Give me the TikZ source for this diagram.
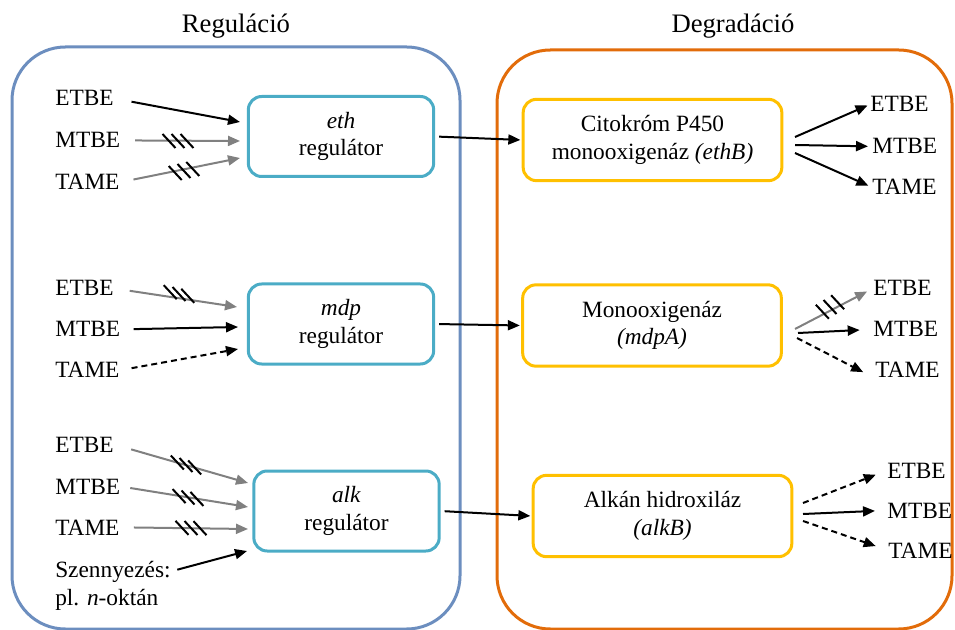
\documentclass[tikz,border=0pt]{standalone}
\usepackage{fontspec}
\setmainfont{Liberation Serif}
\usetikzlibrary{arrows.meta}
\definecolor{regblue}{RGB}{108,142,191}
\definecolor{degorange}{RGB}{226,108,10}
\definecolor{tealbox}{RGB}{75,172,198}
\definecolor{goldbox}{RGB}{255,192,0}
\definecolor{arrgray}{RGB}{128,128,128}
\newcommand\hashmarks[3]{\foreach \hd in {-9,0,9}{\draw[hashline,shift={(#1,#2)}] (#3:\hd) ++(-6.5,-7) -- ++(13,14);}}
\begin{document}
\begin{tikzpicture}[x=0.75pt,y=-0.75pt,
  font=\fontsize{17.5}{20.5}\selectfont,
  container/.style={line width=2.25pt, rounded corners=40pt},
  regbox/.style={draw=tealbox, line width=2.25pt, rounded corners=10pt, minimum width=139pt, minimum height=60pt, align=center, fill=white, inner sep=2pt},
  enzbox/.style={draw=goldbox, line width=2.25pt, rounded corners=10pt, minimum width=194pt, minimum height=61pt, align=center, fill=white, inner sep=2pt},
  title/.style={anchor=base, font=\fontsize{20}{24}\selectfont},
  lbl/.style={anchor=base west, inner sep=0pt},
  blk/.style={line width=1.5pt, -{Triangle[length=9pt,width=7.5pt]}},
  gry/.style={blk, color=arrgray},
  dsh/.style={blk, dash pattern=on 4.5pt off 3pt},
  hashline/.style={line width=1.5pt, black}]
\useasboundingbox (0,0) rectangle (955,630);

% containers
\draw[container, draw=regblue] (12,47) rectangle (460,629);
\draw[container, draw=degorange] (497,50) rectangle (952,629);
\node[title] (t1) at (236,33) {Reguláció};
\node[title] (t2) at (733,33) {Degradáció};

% regulator boxes
\node[regbox] (eth) at (341,136.5) {\textit{eth}\\regulátor};
\node[regbox] (mdp) at (341,324) {\textit{mdp}\\regulátor};
\node[regbox] (alk) at (346.5,511) {\textit{alk}\\regulátor};

% enzyme boxes
\node[enzbox] (cito) at (652.5,140) {Citokróm P450\\monooxigenáz \textit{(ethB)}};
\node[enzbox] (mono) at (652,325.5) {Monooxigenáz\\\textit{(mdpA)}};
\node[enzbox] (alkan) at (662.5,516) {Alkán hidroxiláz\\\textit{(alkB)}};

% left labels
\node[lbl] (a1) at (55,106) {ETBE};
\node[lbl] (a2) at (55,148) {MTBE};
\node[lbl] (a3) at (55,190) {TAME};
\node[lbl] (b1) at (55,296) {ETBE};
\node[lbl] (b2) at (55,337) {MTBE};
\node[lbl] (b3) at (55,378) {TAME};
\node[lbl] (c1) at (55,452) {ETBE};
\node[lbl] (c2) at (55,494) {MTBE};
\node[lbl] (c3) at (55,535) {TAME};
\node[lbl] (c4) at (55,577) {Szennyezés:};
\node[lbl] (c5) at (55,605) {pl. \textit{n}-oktán};

% right labels
\node[lbl] (r1e) at (870,112) {ETBE};
\node[lbl] (r1m) at (872,154) {MTBE};
\node[lbl] (r1t) at (872,195) {TAME};
\node[lbl] (r2e) at (873,296) {ETBE};
\node[lbl] (r2m) at (873,337) {MTBE};
\node[lbl] (r2t) at (875,378) {TAME};
\node[lbl] (r3e) at (887,478) {ETBE};
\node[lbl] (r3m) at (887,518) {MTBE};
\node[lbl] (r3t) at (888,558) {TAME};

% entry points on regulator boxes
\coordinate (eth-a) at (240,122);
\coordinate (eth-b) at (240,141);
\coordinate (eth-c) at (240,158);
\coordinate (mdp-a) at (237,307);
\coordinate (mdp-b) at (238,327);
\coordinate (mdp-c) at (238,349);
\coordinate (alk-a) at (248,483);
\coordinate (alk-b) at (248,507);
\coordinate (alk-c) at (248,529);
\coordinate (alk-d) at (247,551);

% fan points at enzyme boxes
\coordinate (f1a) at (795,137);
\coordinate (f1b) at (795,145);
\coordinate (f1c) at (795,153);
\coordinate (f2a) at (795,329);
\coordinate (f2b) at (798,333);
\coordinate (f2c) at (797,338);
\coordinate (f3a) at (803,503);
\coordinate (f3b) at (803,514);
\coordinate (f3c) at (803,521);

% left arrows
\draw[blk, shorten <=13.5pt] (a1.east) -- (eth-a);
\draw[gry, shorten <=11pt] (a2.east) -- (eth-b);
\draw[gry, shorten <=10.5pt] (a3.east) -- (eth-c);
\draw[gry, shorten <=12pt] (b1.east) -- (mdp-a);
\draw[blk, shorten <=10pt] (b2.east) -- (mdp-b);
\draw[dsh, shorten <=9pt] (b3.east) -- (mdp-c);
\draw[gry, shorten <=13.5pt] (c1.east) -- (alk-a);
\draw[gry, shorten <=7.5pt] (c2.east) -- (alk-b);
\draw[gry, shorten <=10.5pt] (c3.east) -- (alk-c);
\draw[blk, shorten <=5pt] (c4.east) -- (alk-d);

% regulator -> enzyme
\draw[blk, shorten <=3pt, shorten >=1pt] (eth.east) -- (cito.west);
\draw[blk, shorten <=3pt, shorten >=1pt] (mdp.east) -- (mono.west);
\draw[blk, shorten <=3pt, shorten >=1pt] (alk.east) -- (alkan.west);

% right arrows
\draw[blk, shorten >=2pt] (f1a) -- (r1e.west);
\draw[blk, shorten >=3pt] (f1b) -- (r1m.west);
\draw[blk, shorten >=3pt] (f1c) -- (r1t.west);
\draw[gry, shorten >=5pt] (f2a) -- (r2e.west);
\draw[blk, shorten >=10pt] (f2b) -- (r2m.west);
\draw[dsh, shorten >=10pt] (f2c) -- (r2t.south west);
\draw[dsh, shorten >=9pt] (f3a) -- (r3e.west);
\draw[blk, shorten >=9pt] (f3b) -- (r3m.west);
\draw[dsh, shorten >=9.75pt] (f3c) -- (r3t.west);

% hash marks (blocked pathways)
\hashmarks{178}{141}{0}
\hashmarks{184}{171}{-13}
\hashmarks{179}{294}{12}
\hashmarks{186}{465}{16}
\hashmarks{188}{497.5}{9}
\hashmarks{191}{528}{1}
\hashmarks{830}{307}{-32}
\end{tikzpicture}
\end{document}
